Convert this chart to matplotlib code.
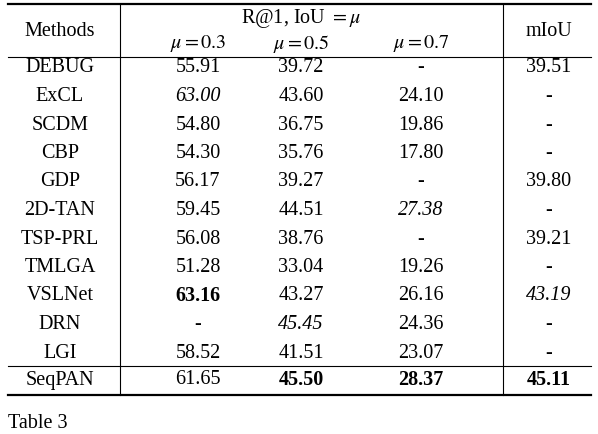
import matplotlib
matplotlib.use("Agg")
import matplotlib.pyplot as plt

plt.rcParams['font.family'] = ['Liberation Serif', 'DejaVu Serif']
plt.rcParams['mathtext.fontset'] = 'stix'

methods = ['DEBUG', 'ExCL', 'SCDM', 'CBP', 'GDP', '2D-TAN', 'TSP-PRL', 'TMLGA',
           'VSLNet', 'DRN', 'LGI', 'SeqPAN']
r03 = ['55.91', '63.00', '54.80', '54.30', '56.17', '59.45', '56.08', '51.28',
       '63.16', '-', '58.52', '61.65']
r05 = ['39.72', '43.60', '36.75', '35.76', '39.27', '44.51', '38.76', '33.04',
       '43.27', '45.45', '41.51', '45.50']
r07 = ['-', '24.10', '19.86', '17.80', '-', '27.38', '-', '19.26',
       '26.16', '24.36', '23.07', '28.37']
miou = ['39.51', '-', '-', '-', '39.80', '-', '39.21', '-',
        '43.19', '-', '-', '45.11']
# (row, col) styles: col 1..4 = r03, r05, r07, miou
bold_cells = [(8, 1), (11, 2), (11, 3), (11, 4)]
italic_cells = [(1, 1), (9, 2), (5, 3), (8, 4)]

fig = plt.figure(figsize=(5.98, 4.34), dpi=100)
ax = fig.add_axes([0, 0, 1, 1])
ax.set_xlim(0, 598)
ax.set_ylim(434, 0)
ax.axis('off')

fs = 14.5
col_x = [60, 198, 301, 421, 549]
x_left, x_right = 8, 591
v1, v2 = 120, 503
top, bottom = 4, 395

ax.plot([x_left, x_right], [top, top], color='black', lw=1.6)
ax.plot([x_left, x_right], [bottom, bottom], color='black', lw=1.6)
ax.plot([x_left, x_right], [57, 57], color='black', lw=0.8)
ax.plot([x_left, x_right], [366, 366], color='black', lw=0.8)
for vx in (v1, v2):
    ax.plot([vx, vx], [top, bottom], color='black', lw=0.8)

ax.text(col_x[0], 31, 'Methods', ha='center', va='center', fontsize=fs)
ax.text(col_x[4], 31, 'mIoU', ha='center', va='center', fontsize=fs)
ax.text(301, 18, r'R@1, IoU $=\mu$', ha='center', va='center', fontsize=fs)
for x, v in zip(col_x[1:4], ['0.3', '0.5', '0.7']):
    ax.text(x, 44, rf'$\mu = {v}$', ha='center', va='center', fontsize=fs)

rows_y = [68 + 28.5 * i for i in range(11)] + [380]
for i, name in enumerate(methods):
    y = rows_y[i]
    ax.text(col_x[0], y, name, ha='center', va='center', fontsize=fs)
    for j, vals in enumerate([r03, r05, r07, miou], start=1):
        style = 'italic' if (i, j) in italic_cells else 'normal'
        weight = 'bold' if (i, j) in bold_cells else 'normal'
        ax.text(col_x[j], y, vals[i], ha='center', va='center', fontsize=fs,
                style=style, weight=weight)

ax.text(8, 424, 'Table 3', ha='left', va='center', fontsize=fs)

fig.savefig('out.png', dpi=100)
